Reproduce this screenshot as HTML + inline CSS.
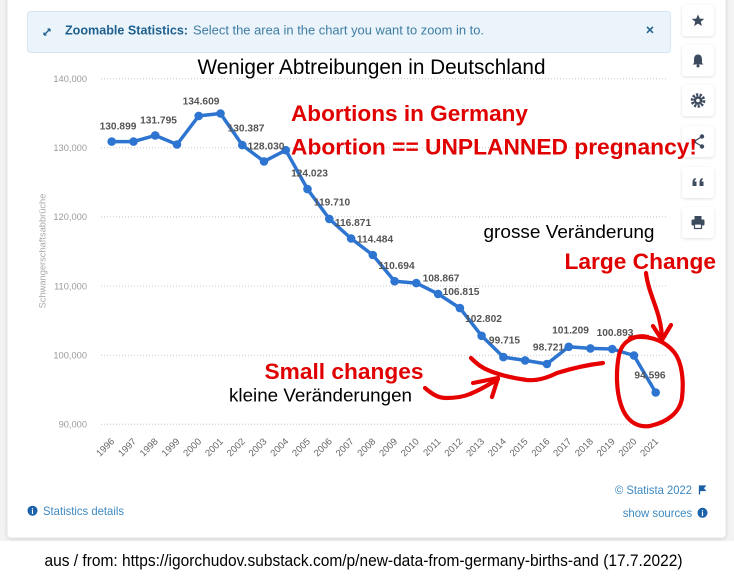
<!DOCTYPE html>
<html>
<head>
<meta charset="utf-8">
<style>
html,body{margin:0;padding:0;background:#fff;}
body{width:734px;height:580px;overflow:hidden;}
svg{display:block;}
text{font-family:"Liberation Sans",Arial,sans-serif;}
</style>
</head>
<body>
<svg width="734" height="580" viewBox="0 0 734 580" xmlns="http://www.w3.org/2000/svg">
  <defs>
    <filter id="sh" x="-30%" y="-30%" width="160%" height="160%">
      <feDropShadow dx="0" dy="1" stdDeviation="1.5" flood-color="#000" flood-opacity="0.12"/>
    </filter>
  </defs>
  <!-- page background -->
  <rect x="0" y="0" width="734" height="580" fill="#ffffff"/>
  <rect x="0" y="0" width="734" height="541" fill="#f3f3f3"/>
  <!-- card -->
  <rect x="7" y="-6" width="719" height="544" rx="4" fill="#ffffff" stroke="#e6e6e6" filter="url(#sh)"/>

  <!-- banner -->
  <rect x="27.5" y="11.5" width="643" height="41" rx="3" fill="#eaf4fa" stroke="#d4e7f2"/>
  <g stroke="#1f5f8e" stroke-width="1.3" fill="none">
    <path d="M44 35 L50 29"/><path d="M44 35 L44 32.5 M44 35 L46.5 35"/>
    <path d="M50 29 L50 31.5 M50 29 L47.5 29"/>
  </g>
  <text x="65" y="34.5" font-size="13" font-weight="bold" fill="#1f5f8e" textLength="123" lengthAdjust="spacingAndGlyphs">Zoomable Statistics:</text>
  <text x="193" y="34.5" font-size="13" fill="#3f7ca3" textLength="291" lengthAdjust="spacingAndGlyphs">Select the area in the chart you want to zoom in to.</text>
  <text x="650" y="34.5" font-size="14" font-weight="bold" fill="#1f5f8e" text-anchor="middle">×</text>

  <!-- right buttons -->
  <g fill="#ffffff" filter="url(#sh)">
    <rect x="682" y="5" width="32" height="31" rx="4"/>
    <rect x="682" y="45" width="32" height="31" rx="4"/>
    <rect x="682" y="85" width="32" height="31" rx="4"/>
    <rect x="682" y="126" width="32" height="31" rx="4"/>
    <rect x="682" y="167" width="32" height="31" rx="4"/>
    <rect x="682" y="207" width="32" height="31" rx="4"/>
  </g>
  <g fill="#3d4b5f">
    <!-- star -->
    <polygon points="698,14.5 699.8,18.6 704.2,18.9 700.8,21.7 701.9,26 698,23.6 694.1,26 695.2,21.7 691.8,18.9 696.2,18.6"/>
    <!-- bell -->
    <path d="M698 54.5 C694.5 54.5 694 57.5 694 60.5 L694 63 L692.5 64.5 L703.5 64.5 L702 63 L702 60.5 C702 57.5 701.5 54.5 698 54.5 Z"/>
    <circle cx="698" cy="66" r="1.5"/>
    <!-- gear -->
    <circle cx="698" cy="100.5" r="5.8" fill="none" stroke="#3d4b5f" stroke-width="3" stroke-dasharray="2.2 1.4"/>
    <circle cx="698" cy="100.5" r="4.3"/>
    <circle cx="698" cy="100.5" r="1.8" fill="#fff"/>
    <!-- share -->
    <circle cx="702" cy="136.5" r="2.2"/><circle cx="694" cy="141.5" r="2.2"/><circle cx="702" cy="146.5" r="2.2"/>
    <path d="M702 136.5 L694 141.5 L702 146.5" stroke="#3d4b5f" stroke-width="1.3" fill="none"/>
    <!-- quote -->
    <path d="M692.5 186 L692.5 182.5 C692.5 180 693.5 178.5 695.5 178 L696 179.3 C695 179.8 694.6 180.5 694.6 181.5 L696.5 181.5 L696.5 186 Z"/>
    <path d="M699.5 186 L699.5 182.5 C699.5 180 700.5 178.5 702.5 178 L703 179.3 C702 179.8 701.6 180.5 701.6 181.5 L703.5 181.5 L703.5 186 Z"/>
    <!-- print -->
    <rect x="694.5" y="216" width="7" height="3.5"/>
    <rect x="691.5" y="219.5" width="13" height="6" rx="1.2"/>
    <rect x="694.5" y="224" width="7" height="4.5" fill="#fff" stroke="#3d4b5f" stroke-width="1.2"/>
  </g>

  <!-- gridlines -->
  <g stroke="#c8c8c8" stroke-width="1" stroke-dasharray="1 2">
    <line x1="101" y1="78.7" x2="666" y2="78.7"/>
    <line x1="101" y1="147.8" x2="666" y2="147.8"/>
    <line x1="101" y1="216.9" x2="666" y2="216.9"/>
    <line x1="101" y1="286" x2="666" y2="286"/>
    <line x1="101" y1="355.2" x2="666" y2="355.2"/>
    <line x1="101" y1="424.3" x2="666" y2="424.3"/>
  </g>
  <g font-size="9.3" fill="#9a9a9a" text-anchor="end">
    <text x="87" y="82">140,000</text>
    <text x="87" y="151">130,000</text>
    <text x="87" y="220">120,000</text>
    <text x="87" y="289.5">110,000</text>
    <text x="87" y="358.5">100,000</text>
    <text x="87" y="427.5">90,000</text>
  </g>
  <text transform="translate(45.5,251) rotate(-90)" font-size="9.3" fill="#aaaaaa" text-anchor="middle">Schwangerschaftsabbrüche</text>

  <!-- x labels -->
  <g font-size="9.5" fill="#666" text-anchor="end">
    <text transform="translate(115,442) rotate(-45)">1996</text>
    <text transform="translate(136.8,442) rotate(-45)">1997</text>
    <text transform="translate(158.5,442) rotate(-45)">1998</text>
    <text transform="translate(180.3,442) rotate(-45)">1999</text>
    <text transform="translate(202,442) rotate(-45)">2000</text>
    <text transform="translate(223.8,442) rotate(-45)">2001</text>
    <text transform="translate(245.6,442) rotate(-45)">2002</text>
    <text transform="translate(267.3,442) rotate(-45)">2003</text>
    <text transform="translate(289.1,442) rotate(-45)">2004</text>
    <text transform="translate(310.8,442) rotate(-45)">2005</text>
    <text transform="translate(332.6,442) rotate(-45)">2006</text>
    <text transform="translate(354.4,442) rotate(-45)">2007</text>
    <text transform="translate(376.1,442) rotate(-45)">2008</text>
    <text transform="translate(397.9,442) rotate(-45)">2009</text>
    <text transform="translate(419.6,442) rotate(-45)">2010</text>
    <text transform="translate(441.4,442) rotate(-45)">2011</text>
    <text transform="translate(463.2,442) rotate(-45)">2012</text>
    <text transform="translate(484.9,442) rotate(-45)">2013</text>
    <text transform="translate(506.7,442) rotate(-45)">2014</text>
    <text transform="translate(528.4,442) rotate(-45)">2015</text>
    <text transform="translate(550.2,442) rotate(-45)">2016</text>
    <text transform="translate(572,442) rotate(-45)">2017</text>
    <text transform="translate(593.7,442) rotate(-45)">2018</text>
    <text transform="translate(615.5,442) rotate(-45)">2019</text>
    <text transform="translate(637.2,442) rotate(-45)">2020</text>
    <text transform="translate(659,442) rotate(-45)">2021</text>
  </g>

  <!-- series line -->
  <polyline fill="none" stroke="#2e75d1" stroke-width="3.5" stroke-linejoin="round" stroke-linecap="round"
    points="111.7,141.6 133.5,141.6 155.2,135.4 177,144.5 198.7,115.9 220.5,113.5 242.3,145.1 264,161.4 285.8,150.2 307.5,189.1 329.3,218.9 351.1,238.5 372.8,255 394.6,281.2 416.3,283.1 438.1,293.9 459.9,308.1 481.6,335.8 503.4,357.1 525.1,360.4 546.9,364 568.7,346.8 590.4,348.4 612.2,349 633.9,355.5 655.7,392.5"/>
  <g fill="#2e75d1">
    <circle cx="111.7" cy="141.6" r="4.3"/><circle cx="133.5" cy="141.6" r="4.3"/><circle cx="155.2" cy="135.4" r="4.3"/>
    <circle cx="177" cy="144.5" r="4.3"/><circle cx="198.7" cy="115.9" r="4.3"/><circle cx="220.5" cy="113.5" r="4.3"/>
    <circle cx="242.3" cy="145.1" r="4.3"/><circle cx="264" cy="161.4" r="4.3"/><circle cx="285.8" cy="150.2" r="4.3"/>
    <circle cx="307.5" cy="189.1" r="4.3"/><circle cx="329.3" cy="218.9" r="4.3"/><circle cx="351.1" cy="238.5" r="4.3"/>
    <circle cx="372.8" cy="255" r="4.3"/><circle cx="394.6" cy="281.2" r="4.3"/><circle cx="416.3" cy="283.1" r="4.3"/>
    <circle cx="438.1" cy="293.9" r="4.3"/><circle cx="459.9" cy="308.1" r="4.3"/><circle cx="481.6" cy="335.8" r="4.3"/>
    <circle cx="503.4" cy="357.1" r="4.3"/><circle cx="525.1" cy="360.4" r="4.3"/><circle cx="546.9" cy="364" r="4.3"/>
    <circle cx="568.7" cy="346.8" r="4.3"/><circle cx="590.4" cy="348.4" r="4.3"/><circle cx="612.2" cy="349" r="4.3"/>
    <circle cx="633.9" cy="355.5" r="4.3"/><circle cx="655.7" cy="392.5" r="4.3"/>
  </g>

  <!-- data labels -->
  <g font-size="10.2" font-weight="bold" fill="#555" text-anchor="middle">
    <text x="118" y="129.5">130.899</text>
    <text x="158.5" y="123.5">131.795</text>
    <text x="201" y="104.5">134.609</text>
    <text x="246" y="131.5">130.387</text>
    <text x="266" y="149.5">128.030</text>
    <text x="309.5" y="176.5">124.023</text>
    <text x="332" y="205.5">119.710</text>
    <text x="353" y="226">116.871</text>
    <text x="375" y="242.5">114.484</text>
    <text x="396.5" y="269">110.694</text>
    <text x="441" y="281.5">108.867</text>
    <text x="461" y="295">106.815</text>
    <text x="483.5" y="322">102.802</text>
    <text x="504.5" y="343.5">99.715</text>
    <text x="548.5" y="350.5">98.721</text>
    <text x="570.5" y="333.5">101.209</text>
    <text x="615" y="336">100.893</text>
    <text x="650" y="378.5">94.596</text>
  </g>

  <!-- title / annotations -->
  <text x="197.5" y="74" font-size="21" fill="#000" textLength="348" lengthAdjust="spacingAndGlyphs">Weniger Abtreibungen in Deutschland</text>
  <g fill="#e00000" font-weight="bold" font-size="22.5">
    <text x="291" y="121" textLength="237" lengthAdjust="spacingAndGlyphs">Abortions in Germany</text>
    <text x="291" y="154.5" textLength="406" lengthAdjust="spacingAndGlyphs">Abortion == UNPLANNED pregnancy!</text>
    <text x="564.5" y="269" textLength="151.5" lengthAdjust="spacingAndGlyphs">Large Change</text>
    <text x="264.5" y="379" textLength="159" lengthAdjust="spacingAndGlyphs">Small changes</text>
  </g>
  <text x="483.5" y="238" font-size="18.5" fill="#000" textLength="171" lengthAdjust="spacingAndGlyphs">grosse Veränderung</text>
  <text x="229" y="401.5" font-size="18.5" fill="#000" textLength="183" lengthAdjust="spacingAndGlyphs">kleine Veränderungen</text>

  <!-- red freehand strokes -->
  <g fill="none" stroke="#e60000" stroke-width="4.2" stroke-linecap="round" stroke-linejoin="round">
    <path d="M471 358 C477 364 482 368 490 371 C500 375 512 378 527 380 C537 381 547 378 557 373 C570 369 585 365 603 363"/>
    <path d="M425 388 C432 394 438 398 446 398 C455 398 463 397 470 394 C480 390 490 384 498 379"/>
    <path d="M473 383 L498 378 L492 397"/>
    <path d="M646 273 C648 290 656 305 659 318 C661 326 662 333 662 340"/>
    <path d="M653 326 L662 340 L671 325"/>
    <path d="M630 338 C645 335 662 338 674 352 C682 362 684 380 682 398 C680 412 668 422 650 426 C636 428 626 420 621 405 C616 390 616 370 619 355 C621 346 626 340 636 337 C640 336 644 336 648 337"/>
  </g>

  <!-- footer -->
  <text x="615" y="494" font-size="12" fill="#3d89c0" textLength="77" lengthAdjust="spacingAndGlyphs">© Statista 2022</text>
  <path d="M699.5 485.5 L699.5 494.5 M699.5 486 L705 486 L703.2 488.3 L705 490.5 L699.5 490.5" fill="#1c5fa3" stroke="#1c5fa3" stroke-width="1.3"/>
  <circle cx="32.5" cy="510.7" r="5" fill="#1c62ab"/>
  <text x="32.5" y="513.8" font-size="8" font-weight="bold" fill="#fff" text-anchor="middle">i</text>
  <text x="43" y="515" font-size="12" fill="#3d89c0" textLength="81" lengthAdjust="spacingAndGlyphs">Statistics details</text>
  <text x="622.7" y="517" font-size="12" fill="#3d89c0" textLength="69.5" lengthAdjust="spacingAndGlyphs">show sources</text>
  <circle cx="702.5" cy="512.8" r="5" fill="#1c62ab"/>
  <text x="702.5" y="515.9" font-size="8" font-weight="bold" fill="#fff" text-anchor="middle">i</text>

  <!-- caption -->
  <text x="44.5" y="566" font-size="17" fill="#000" textLength="638" lengthAdjust="spacingAndGlyphs">aus / from: https://igorchudov.substack.com/p/new-data-from-germany-births-and (17.7.2022)</text>
</svg>
</body>
</html>
